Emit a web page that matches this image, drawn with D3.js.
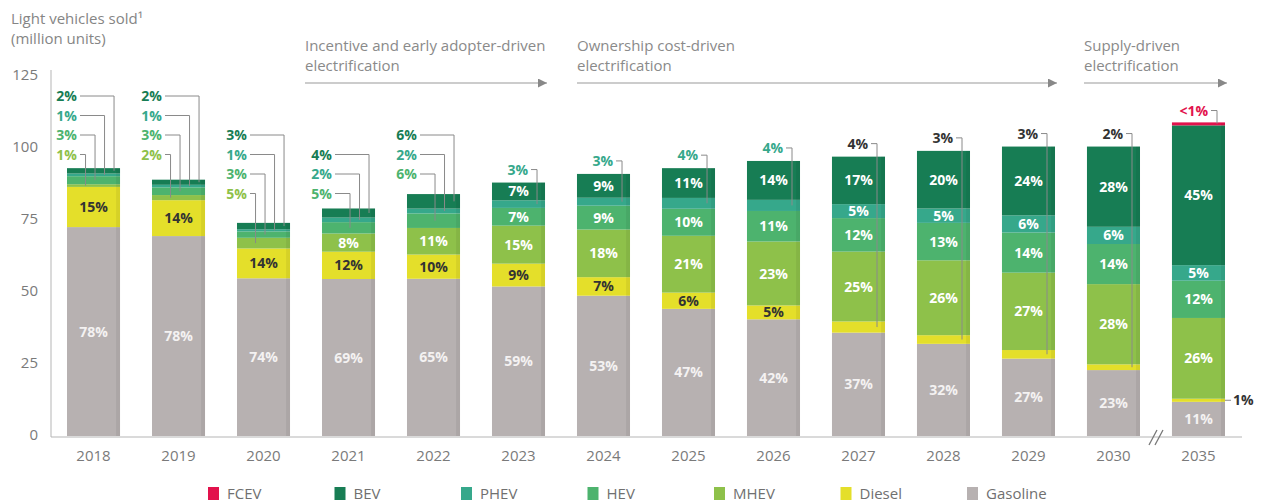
<!DOCTYPE html>
<html>
<head>
<meta charset="utf-8">
<script src="https://cdn.jsdelivr.net/npm/d3@7"></script>
<style>
  body { margin: 0; background: #fff; }
  text { font-family: "Open Sans", "Noto Sans", sans-serif; }
</style>
</head>
<body>
<div id="chart"></div>
<script>
// data
var years = ["2018","2019","2020","2021","2022","2023","2024","2025","2026","2027","2028","2029","2030","2035"];
var totals = [93, 89, 74, 79, 84, 88, 91, 93, 95.5, 97, 99, 100.5, 100.5, 108.5]; // million units
var gasoline = [78, 78, 74, 69, 65, 59, 53, 47, 42, 37, 32, 27, 23, 11];
var diesel   = [15, 14, 14, 12, 10,  9,  7,  6,  5,  4,  3,  3,  2,  1];
var mhev     = [ 1,  2,  5,  8, 11, 15, 18, 21, 23, 25, 26, 27, 28, 26];
var hev      = [ 3,  3,  3,  5,  6,  7,  9, 10, 11, 12, 13, 14, 14, 12];
var phev     = [ 1,  1,  1,  2,  2,  3,  3,  4,  4,  5,  5,  6,  6,  5];
var bev      = [ 2,  2,  3,  4,  6,  7,  9, 11, 14, 17, 20, 24, 28, 45];
var fcev     = [ 0,  0,  0,  0,  0,  0,  0,  0,  0,  0,  0,  0,  0, 0.6];
var yTicks = [0, 25, 50, 75, 100, 125];

// labels that sit above the bar (top to bottom)
var outsideLabels = {
  "2018": ["BEV","PHEV","HEV","MHEV"],
  "2019": ["BEV","PHEV","HEV","MHEV"],
  "2020": ["BEV","PHEV","HEV","MHEV"],
  "2021": ["BEV","PHEV","HEV"],
  "2022": ["BEV","PHEV","HEV"],
  "2023": ["PHEV"], "2024": ["PHEV"], "2025": ["PHEV"], "2026": ["PHEV"],
  "2027": ["Diesel"], "2028": ["Diesel"], "2029": ["Diesel"], "2030": ["Diesel"],
  "2035": ["FCEV"]
};
var sideLabels = {"2035": "Diesel"};

var keys = ["Gasoline","Diesel","MHEV","HEV","PHEV","BEV","FCEV"];
var shares = {Gasoline: gasoline, Diesel: diesel, MHEV: mhev, HEV: hev, PHEV: phev, BEV: bev, FCEV: fcev};
var colors = {FCEV:"#e2124c", BEV:"#177d54", PHEV:"#36a88b", HEV:"#4db36e", MHEV:"#8ec14a", Diesel:"#e4df2a", Gasoline:"#b7b1b1"};
var labelColors = {FCEV:"#e2124c", BEV:"#177d54", PHEV:"#36a88b", HEV:"#4db36e", MHEV:"#8ec14a", Diesel:"#333", Gasoline:"#fff"};
var legendKeys = ["FCEV","BEV","PHEV","HEV","MHEV","Diesel","Gasoline"];

// build table: each segment in million units
var table = years.map(function(yr, i) {
  var row = {year: yr};
  var sum = d3.sum(keys, function(k) { return shares[k][i]; });
  keys.forEach(function(k) { row[k] = shares[k][i] / sum * totals[i]; });
  return row;
});
var stacked = d3.stack().keys(keys)(table);

var W = 1267, H = 504;
var svg = d3.select("#chart").append("svg").attr("width", W).attr("height", H);

var x = d3.scaleBand().domain(years).range([50, 1242]).paddingInner(0.376).paddingOuter(0.2);
var y = d3.scaleLinear().domain([0, 125]).range([436, 76]);

// y axis
var yAxis = svg.append("g").attr("transform", "translate(51,0)")
  .call(d3.axisLeft(y).tickValues(yTicks).tickSize(0).tickPadding(13));
yAxis.select(".domain").attr("stroke", "#b5b5b5").attr("d", "M0,70V437");
yAxis.selectAll("text").attr("fill", "#7a7a7a").style("font-size", "15px").attr("dy", "0.2em");

// x axis
var xAxis = svg.append("g").attr("transform", "translate(0,437)")
  .call(d3.axisBottom(x).tickSize(0).tickPadding(13));
xAxis.select(".domain").attr("stroke", "#b5b5b5").attr("d", "M51,0H1242");
xAxis.selectAll("text").attr("fill", "#7a7a7a").style("font-size", "15px");

// break mark between 2030 and 2035
var bx = (x("2030") + x.bandwidth() + x("2035")) / 2;
[-3, 3].forEach(function(o) {
  svg.append("line").attr("x1", bx + o - 4).attr("y1", 445).attr("x2", bx + o + 4).attr("y2", 430)
    .attr("stroke", "#777").attr("stroke-width", 1.3);
});

// bars
var layers = svg.append("g").selectAll("g").data(stacked).enter().append("g")
  .attr("fill", function(d) { return colors[d.key]; });
layers.selectAll("rect").data(function(d) { return d; }).enter().append("rect")
  .attr("x", function(d) { return x(d.data.year); })
  .attr("y", function(d) { return y(d[1]); })
  .attr("width", x.bandwidth())
  .attr("height", function(d) { return Math.max(0, y(d[0]) - y(d[1])); });
// fcev thin line
layers.filter(function(d) { return d.key == "FCEV"; }).selectAll("rect")
  .attr("y", function(d) { return d[1] > d[0] ? y(d[0]) - 3 : y(d[0]); })
  .attr("height", function(d) { return d[1] > d[0] ? 3 : 0; });

// darker right edge on each bar
svg.append("g").selectAll("rect").data(table).enter().append("rect")
  .attr("x", function(d) { return x(d.year) + x.bandwidth() - 4; })
  .attr("y", function(d, i) { return y(totals[i]); })
  .attr("width", 4)
  .attr("height", function(d, i) { return y(0) - y(totals[i]); })
  .attr("fill", "#000").attr("opacity", 0.06);

// inside labels
var insideG = svg.append("g");
stacked.forEach(function(layer) {
  layer.forEach(function(d, i) {
    var yr = years[i];
    var h = y(d[0]) - y(d[1]);
    if (outsideLabels[yr].indexOf(layer.key) >= 0 || sideLabels[yr] == layer.key || h < 12) return;
    insideG.append("text")
      .attr("x", x(yr) + x.bandwidth() / 2)
      .attr("y", (y(d[0]) + y(d[1])) / 2)
      .attr("dy", "0.36em")
      .attr("text-anchor", "middle")
      .style("font-size", "14px").style("font-weight", 700)
      .attr("fill", layer.key == "Gasoline" ? "#f4f2f2" : (layer.key == "Diesel" ? "#333" : "#fff"))
      .text(shares[layer.key][i] + "%");
  });
});

// outside labels with leader lines
var outG = svg.append("g");
function segMid(key, i) {
  var s = stacked[keys.indexOf(key)][i];
  return (y(s[0]) + y(s[1])) / 2;
}
years.forEach(function(yr, i) {
  var list = outsideLabels[yr];
  var top = y(totals[i]);
  var left = x(yr), right = left + x.bandwidth();
  var multi = list.length > 1;
  var bottomY;
  if (multi) {
    bottomY = 96;
    while (bottomY + 19.5 <= top - 12) bottomY += 19.5;
  } else {
    bottomY = top - 13;
  }
  list.forEach(function(key, j) {
    var ly = bottomY - (list.length - 1 - j) * 19.5;
    var vx = multi ? right - 6 - j * 9.5 : right - 8;
    var tx = multi ? left + 10 : vx - 9;
    var txt = (key == "FCEV" && shares[key][i] < 1) ? "<1%" : shares[key][i] + "%";
    outG.append("text")
      .attr("x", tx).attr("y", ly).attr("dy", "0.36em")
      .attr("text-anchor", "end")
      .style("font-size", "14px").style("font-weight", 700)
      .attr("fill", labelColors[key])
      .text(txt);
    var endY = key == "FCEV" ? top : segMid(key, i);
    outG.append("path")
      .attr("d", "M" + (tx + 3) + "," + ly + "H" + vx + "V" + endY)
      .attr("fill", "none").attr("stroke", "#8a8a8a").attr("stroke-width", 1);
  });
  if (sideLabels[yr]) {
    var key = sideLabels[yr];
    var sy = segMid(key, i);
    outG.append("line").attr("x1", right).attr("x2", right + 6).attr("y1", sy).attr("y2", sy)
      .attr("stroke", "#8a8a8a");
    outG.append("text").attr("x", right + 8).attr("y", sy).attr("dy", "0.36em")
      .style("font-size", "14px").style("font-weight", 700).attr("fill", "#333")
      .text(shares[key][i] + "%");
  }
});

// titles
svg.append("text").attr("x", 11).attr("y", 24).attr("fill", "#858585").style("font-size", "15px")
  .text("Light vehicles sold\u00b9");
svg.append("text").attr("x", 11).attr("y", 44).attr("fill", "#858585").style("font-size", "15px")
  .text("(million units)");

// phase annotations
var phases = [
  {l1: "Incentive and early adopter-driven", l2: "electrification", from: "2021", to: "2023", shift: -17},
  {l1: "Ownership cost-driven", l2: "electrification", from: "2024", to: "2029", shift: 0},
  {l1: "Supply-driven", l2: "electrification", from: "2030", to: "2035", shift: -3}
];
svg.append("defs").append("marker").attr("id", "arr")
  .attr("viewBox", "0 0 10 10").attr("refX", 10).attr("refY", 5)
  .attr("markerWidth", 9).attr("markerHeight", 9).attr("markerUnits", "userSpaceOnUse")
  .attr("orient", "auto")
  .append("path").attr("d", "M0,0L10,5L0,10Z").attr("fill", "#888");
phases.forEach(function(p) {
  var x0 = x(p.from) + p.shift;
  var x1 = x(p.to) + x.bandwidth() + 2;
  svg.append("text").attr("x", x0).attr("y", 51).attr("fill", "#8a8a8a").style("font-size", "15px").text(p.l1);
  svg.append("text").attr("x", x0).attr("y", 71).attr("fill", "#8a8a8a").style("font-size", "15px").text(p.l2);
  svg.append("line").attr("x1", x0).attr("x2", x1).attr("y1", 83).attr("y2", 83)
    .attr("stroke", "#999").attr("stroke-width", 1.2).attr("marker-end", "url(#arr)");
});

// legend
var legend = svg.append("g").selectAll("g").data(legendKeys).enter().append("g")
  .attr("transform", function(d, i) { return "translate(" + (208 + i * 126.5) + ",487)"; });
legend.append("rect").attr("width", 11).attr("height", 13).attr("fill", function(d) { return colors[d]; });
legend.append("text").attr("x", 19).attr("y", 7).attr("dy", "0.35em")
  .attr("fill", "#707070").style("font-size", "15px").text(function(d) { return d; });
</script>
</body>
</html>
